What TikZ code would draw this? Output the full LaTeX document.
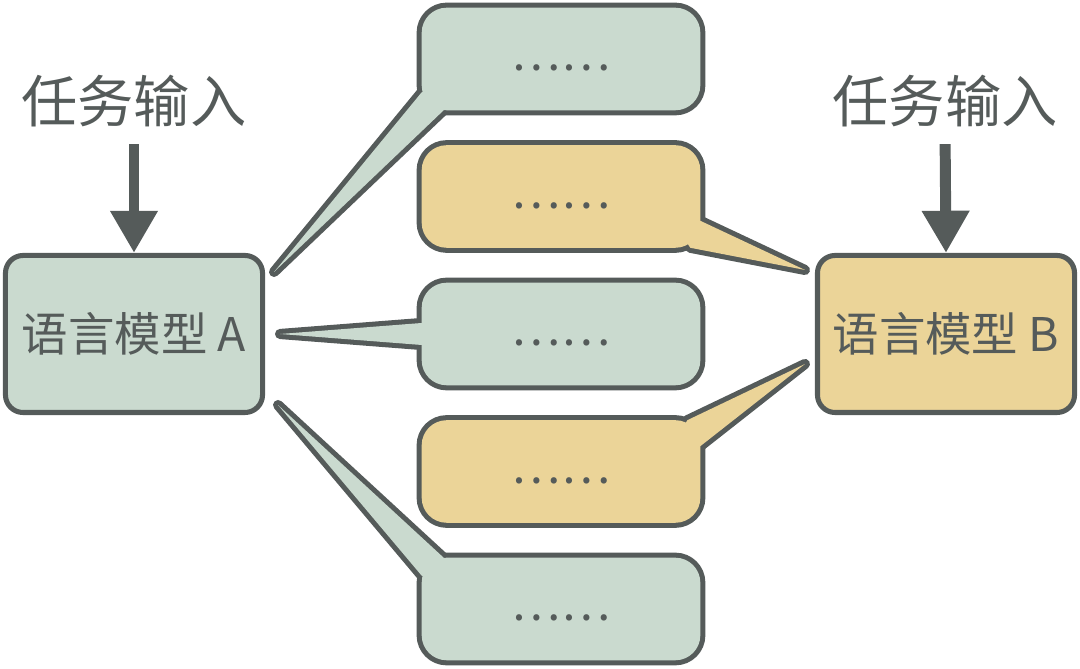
\documentclass[tikz,border=0pt]{standalone}
\usepackage{fontspec}
\setmainfont{Noto Sans CJK SC}
\usetikzlibrary{positioning,calc,arrows.meta}
\definecolor{sagegreen}{RGB}{202,218,207}
\definecolor{sandyellow}{RGB}{235,212,152}
\definecolor{darkslate}{RGB}{85,91,90}
\pgfdeclarelayer{outline}
\pgfdeclarelayer{inside}
\pgfsetlayers{outline,inside,main}
\newcommand{\lowdots}{\raisebox{-0.3cm}[0pt][0pt]{……}}

\begin{document}
\begin{tikzpicture}[x=0.025cm, y=0.025cm,
    modelbox/.style={draw=darkslate, line width=3.6pt, rounded corners=0.44cm,
      minimum width=6.425cm, minimum height=3.925cm, inner sep=0pt,
      text=darkslate, font=\fontsize{33}{40}\selectfont},
    bubble/.style={minimum width=6.95cm, minimum height=2.55cm, inner sep=0pt,
      text=darkslate, font=\fontsize{33}{40}\selectfont},
    tasklabel/.style={inner sep=0pt, text=darkslate, font=\fontsize{40}{48}\selectfont},
    flowarrow/.style={darkslate, line width=7.8pt, shorten <=12pt,
      -{Triangle[length=30pt, width=32pt]}},
    rim/.style={darkslate, line width=7.2pt, line join=round},
    % tail shapes, bubble side first, then the tip at the model box
    tailone/.style={insert path={($(b1.south west)+(0,18)$) -- ($(mA.north east)+(9,-19)$)
      -- ($(b1.south west)+(22,0)$) -- ($(b1.south west)+(30,30)$) -- cycle}},
    tailtwo/.style={insert path={($(b2.south east)+(0,27)$) -- ($(mB.north west)+(-10,-17)$)
      -- ($(b2.south east)+(-10,0)$) -- ($(b2.south east)+(-30,30)$) -- cycle}},
    tailthree/.style={insert path={($(b3.west)+(0,11)$) -- ($(mA.east)+(15,0)$)
      -- ($(b3.west)+(0,-11)$) -- ($(b3.west)+(25,0)$) -- cycle}},
    tailfour/.style={insert path={($(b4.north east)+(-13,0)$) -- ($(mB.west)+(-10,-30)$)
      -- ($(b4.north east)+(0,-26)$) -- ($(b4.north east)+(-30,-30)$) -- cycle}},
    tailfive/.style={insert path={($(b5.north west)+(22,0)$) -- ($(mA.south east)+(13,10)$)
      -- ($(b5.north west)+(0,-18)$) -- ($(b5.north west)+(30,-30)$) -- cycle}}]
  \useasboundingbox (0,0) rectangle (1080,669);

  % Models and their inputs
  \node[modelbox, fill=sagegreen] (mA) at (134,335) {语言模型 A};
  \node[modelbox, fill=sandyellow] (mB) at (946,335) {语言模型 B};
  \node[tasklabel] (taskA) at (134,568) {任务输入};
  \node[tasklabel] (taskB) at (945,568) {任务输入};
  \draw[flowarrow] (taskA.south) -- (mA.north);
  \draw[flowarrow] (taskB.south) -- (mB.north);

  % Speech bubbles
  \foreach \i/\yy in {1/610, 2/472.5, 3/335, 4/197.5, 5/60}{
    \node[bubble] (b\i) at (561,\yy) {\lowdots};
  }

  % Outline: thick stroke, half of it covered by the fill
  \begin{pgfonlayer}{outline}
    \foreach \i in {1,...,5}{
      \draw[rim, rounded corners=0.625cm] (b\i.south west) rectangle (b\i.north east);
    }
    \draw[rim, tailone];
    \draw[rim, tailtwo];
    \draw[rim, tailthree];
    \draw[rim, tailfour];
    \draw[rim, tailfive];
  \end{pgfonlayer}
  \begin{pgfonlayer}{inside}
    \foreach \i/\col in {1/sagegreen, 2/sandyellow, 3/sagegreen, 4/sandyellow, 5/sagegreen}{
      \fill[\col, rounded corners=0.625cm] (b\i.south west) rectangle (b\i.north east);
    }
    \fill[sagegreen, tailone];
    \fill[sandyellow, tailtwo];
    \fill[sagegreen, tailthree];
    \fill[sandyellow, tailfour];
    \fill[sagegreen, tailfive];
  \end{pgfonlayer}
\end{tikzpicture}
\end{document}
